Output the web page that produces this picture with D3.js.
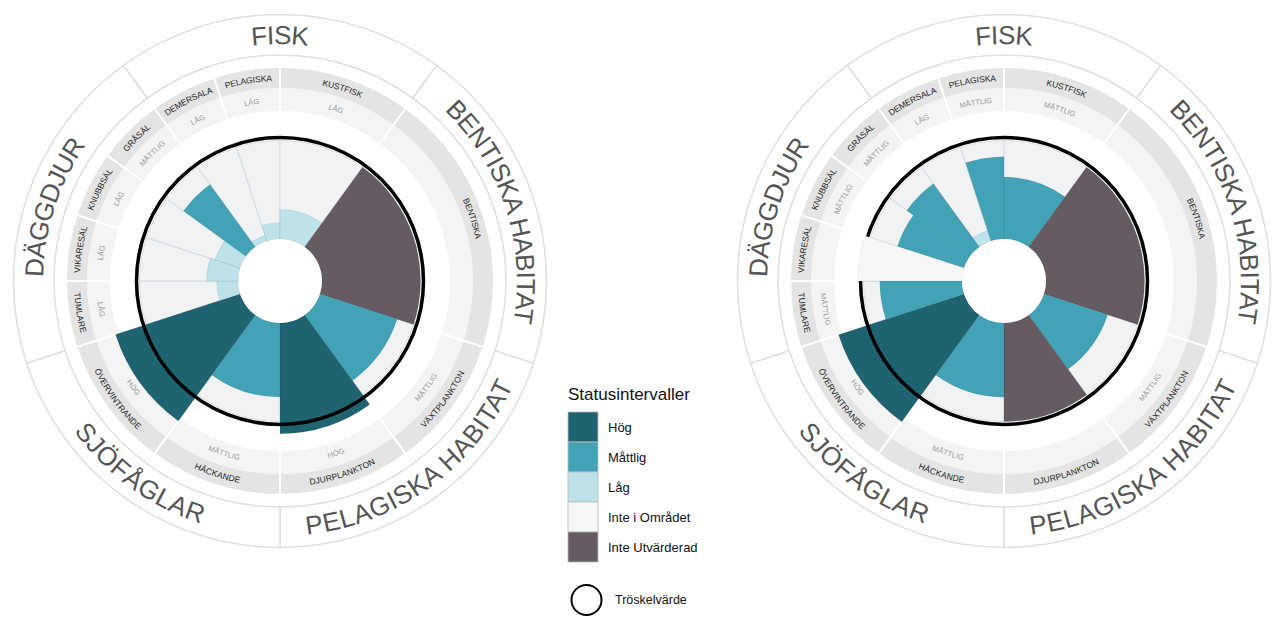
<!DOCTYPE html>
<html>
<head>
<meta charset="utf-8">
<script src="https://cdn.jsdelivr.net/npm/d3@7"></script>
<style>
  body { margin: 0; background: #fff; }
  text { font-family: "Liberation Sans", Arial, Helvetica, sans-serif; }
</style>
</head>
<body>
<svg id="chart" width="1274" height="617"></svg>
<script>
// indicators clockwise, starting at the left edge of FISK
const indicators = ["DEMERSALA", "PELAGISKA", "KUSTFISK", "BENTISKA", "VÄXTPLANKTON", "DJURPLANKTON",
                    "HÄCKANDE", "ÖVERVINTRANDE", "TUMLARE", "VIKARESÄL", "KNUBBSÄL", "GRÅSÄL"]
const indicatorWidths = [1, 1, 2, 4, 2, 2, 2, 2, 1, 1, 1, 1]

const groups = ["FISK", "BENTISKA HABITAT", "PELAGISKA HABITAT", "SJÖFÅGLAR", "DÄGGDJUR"]
const groupWidths = [4, 4, 4, 4, 4]

const statusClasses = ["Hög", "Måttlig", "Låg", "Inte i Området", "Inte Utvärderad"]
const statusColors = ["#1f6370", "#42a3b6", "#bde2ea", "#f6f6f7", "#655b63"]

// value relative to threshold (1 = on the threshold circle)
const leftStatus = ["Låg", "Låg", "Låg", "Inte Utvärderad", "Måttlig", "Hög",
                    "Måttlig", "Hög", "Låg", "Låg", "Låg", "Måttlig"]
const leftValues = [0.06, 0.16, 0.29, 0.97, 0.80, 1.09, 0.73, 1.29, 0.21, 0.31, 0.26, 0.76]

const rightStatus = ["Låg", "Måttlig", "Måttlig", "Inte Utvärderad", "Måttlig", "Inte Utvärderad",
                     "Måttlig", "Hög", "Måttlig", "Inte i Området", "Måttlig", "Måttlig"]
const rightValues = [0.11, 0.81, 0.61, 0.97, 0.66, 0.97, 0.73, 1.30, 0.81, 1.03, 0.69, 0.77]

const threshold = 1
const backgroundValue = 0.97

let svg = d3.select("#chart")
let color = d3.scaleOrdinal().domain(statusClasses).range(statusColors)
let r = d3.scaleLinear().domain([0, 1]).range([42, 143.5])

const start = -Math.PI / 5
let pie = d3.pie().sort(null).value(d => d.w).startAngle(start).endAngle(start + 2 * Math.PI)

let uid = 0

function labelPath(a0, a1, radius) {
    let mid = (a0 + a1) / 2
    let m = ((mid % (2 * Math.PI)) + 2 * Math.PI) % (2 * Math.PI)
    let flip = m > Math.PI / 2 && m < 3 * Math.PI / 2
    let p = a => [radius * Math.sin(a), -radius * Math.cos(a)]
    let large = (a1 - a0) > Math.PI ? 1 : 0
    if (!flip) {
        return `M${p(a0)}A${radius},${radius} 0 ${large} 1 ${p(a1)}`
    }
    return `M${p(a1)}A${radius},${radius} 0 ${large} 0 ${p(a0)}`
}

function arcText(g, arcs, radius, textFn, size, fill, weight) {
    arcs.forEach(d => {
        let id = "lp" + (uid++)
        g.append("path").attr("id", id).attr("d", labelPath(d.startAngle, d.endAngle, radius))
            .attr("fill", "none")
        g.append("text")
            .attr("font-size", size)
            .attr("fill", fill)
            .attr("font-weight", weight || "normal")
            .attr("dy", "0.35em")
            .append("textPath")
            .attr("href", "#" + id)
            .attr("startOffset", "50%")
            .attr("text-anchor", "middle")
            .text(textFn(d))
    })
}

function drawWheel(cx, cy, statuses, values) {
    let g = svg.append("g").attr("transform", `translate(${cx},${cy})`)

    let data = indicators.map((name, i) => ({
        name: name, w: indicatorWidths[i], status: statuses[i], value: values[i]
    }))
    let arcs = pie(data)
    let groupArcs = pie(groups.map((name, i) => ({ name: name, w: groupWidths[i] })))

    // outer group ring
    g.selectAll(".grp").data(groupArcs).join("path")
        .attr("class", "grp")
        .attr("d", d3.arc().innerRadius(226).outerRadius(266.5))
        .attr("fill", "#fff")
        .attr("stroke", "#e0e0e0")
        .attr("stroke-width", 1.6)
    arcText(g, groupArcs, 246, d => d.data.name, 26, "#555")

    // status band and name band
    g.selectAll(".stband").data(arcs).join("path")
        .attr("d", d3.arc().innerRadius(170).outerRadius(193))
        .attr("fill", "#f4f4f4")
    g.selectAll(".nmband").data(arcs).join("path")
        .attr("d", d3.arc().innerRadius(193).outerRadius(213))
        .attr("fill", "#e4e4e4")
    g.selectAll(".sep").data(arcs).join("line")
        .attr("x1", d => 168 * Math.sin(d.startAngle))
        .attr("y1", d => -168 * Math.cos(d.startAngle))
        .attr("x2", d => 215 * Math.sin(d.startAngle))
        .attr("y2", d => -215 * Math.cos(d.startAngle))
        .attr("stroke", "#fff")
        .attr("stroke-width", 2)
    arcText(g, arcs, 203, d => d.data.name, 8.5, "#222")
    arcText(g, arcs.filter(d => ["Hög", "Måttlig", "Låg"].includes(d.data.status)), 181,
        d => d.data.status.toUpperCase(), 7.5, "#999")

    // background wedges
    g.selectAll(".bg").data(arcs).join("path")
        .attr("d", d3.arc().innerRadius(r(0)).outerRadius(r(backgroundValue)))
        .attr("fill", "#f1f2f4")
        .attr("stroke", "#cfd2d6")
        .attr("stroke-width", 0.7)

    // status wedges
    let below = arcs.filter(d => d.data.status != "Inte i Området")
    let above = arcs.filter(d => d.data.status == "Inte i Området")
    let wedge = d3.arc().innerRadius(r(0)).outerRadius(d => r(d.data.value))

    g.selectAll(".wedge").data(below).join("path")
        .attr("d", wedge)
        .attr("fill", d => color(d.data.status))
        .attr("stroke", "rgba(0,0,0,0.12)")
        .attr("stroke-width", 0.6)

    // threshold
    g.append("circle")
        .attr("r", r(threshold))
        .attr("fill", "none")
        .attr("stroke", "#000")
        .attr("stroke-width", 3.5)

    g.selectAll(".wedge2").data(above).join("path")
        .attr("d", wedge)
        .attr("fill", d => color(d.data.status))
        .attr("stroke", "rgba(0,0,0,0.08)")
        .attr("stroke-width", 0.6)

    g.append("circle").attr("r", r(0)).attr("fill", "#fff")
}

drawWheel(280, 281, leftStatus, leftValues)
drawWheel(1004, 281, rightStatus, rightValues)

// legend
let legend = svg.append("g").attr("transform", "translate(568,0)")
legend.append("text")
    .attr("x", 0).attr("y", 400)
    .attr("font-size", 17)
    .attr("fill", "#111")
    .text("Statusintervaller")

let items = legend.selectAll(".item").data(statusClasses).join("g")
    .attr("transform", (d, i) => `translate(0,${412 + i * 30})`)
items.append("rect")
    .attr("width", 30).attr("height", 30)
    .attr("fill", d => color(d))
    .attr("stroke", "#bbb")
    .attr("stroke-width", 0.8)
items.append("text")
    .attr("x", 40).attr("y", 15).attr("dy", "0.35em")
    .attr("font-size", 13)
    .attr("fill", "#111")
    .text(d => d)

legend.append("circle")
    .attr("cx", 18.5).attr("cy", 600).attr("r", 15)
    .attr("fill", "none").attr("stroke", "#000").attr("stroke-width", 2)
legend.append("text")
    .attr("x", 47).attr("y", 600).attr("dy", "0.35em")
    .attr("font-size", 12.5)
    .attr("fill", "#111")
    .text("Tröskelvärde")
</script>
</body>
</html>
